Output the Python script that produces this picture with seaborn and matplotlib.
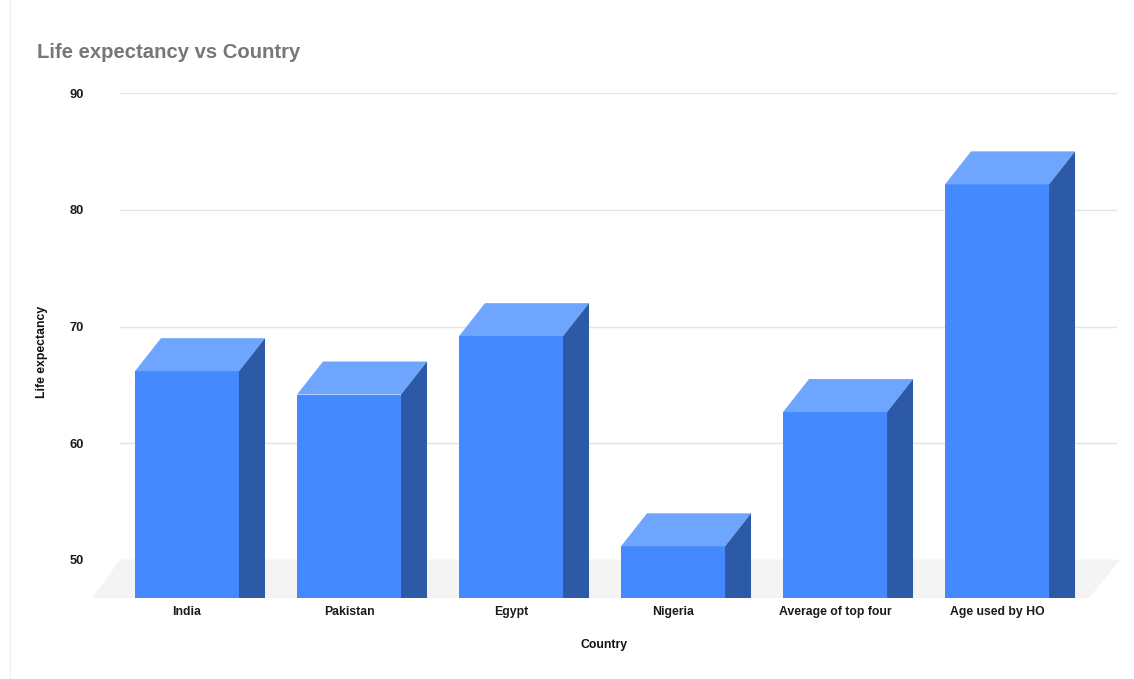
import numpy as np
import pandas as pd
import matplotlib
matplotlib.use("Agg")
import matplotlib.pyplot as plt
import seaborn as sns
from matplotlib.patches import Polygon
from matplotlib.transforms import IdentityTransform
from matplotlib.lines import Line2D

countries = ["India", "Pakistan", "Egypt", "Nigeria", "Average of top four", "Age used by HO"]
life_expectancy = [69, 67, 72, 54, 65.5, 85]
y_ticks = [50, 60, 70, 80, 90]

title = "Life expectancy vs Country"
x_label = "Country"
y_label = "Life expectancy"

FRONT = "#4589ff"
TOP = "#6ea5ff"
SIDE = "#2d5aa6"

sns.set_theme(style="white")
plt.rcParams["font.family"] = ["Liberation Sans", "DejaVu Sans"]

W, H, DPI = 1134, 679, 100
fig = plt.figure(figsize=(W / DPI, H / DPI), dpi=DPI)
fig.patch.set_facecolor("white")

def fr(x0, x1, ytop, ybot):
    return [x0 / W, 1 - ybot / H, (x1 - x0) / W, (ybot - ytop) / H]

# back wall axes (gridlines and value ticks)
ax_back = fig.add_axes(fr(120, 1117, 93, 560))
ax_back.set_zorder(0)
ax_back.set_ylim(50, 90)
ax_back.set_xlim(0, 1)
ax_back.set_yticks(y_ticks)
ax_back.set_yticklabels([str(t) for t in y_ticks], fontsize=9.3, fontweight="bold", color="#1a1a1a")
ax_back.set_xticks([])
ax_back.yaxis.grid(True, color="#e4e4e4", linewidth=1)
ax_back.tick_params(axis="y", length=0, pad=26)
for s in ax_back.spines.values():
    s.set_visible(False)
ax_back.set_facecolor("white")

# floor in pixel coordinates
def px(x, y):
    return (x, H - y)
floor = Polygon([px(92, 598), px(1089, 598), px(1120, 560), px(120, 560)],
                closed=True, facecolor="#f4f4f4", edgecolor="none",
                transform=IdentityTransform(), zorder=0.5)
fig.add_artist(floor)

# front plane axes (bars)
ax = fig.add_axes(fr(94, 1091, 126, 598))
ax.set_zorder(1)
ax.patch.set_alpha(0)
df = pd.DataFrame({"country": countries, "value": life_expectancy})
sns.barplot(data=df, x="country", y="value", ax=ax, color=FRONT, width=0.642,
            saturation=1, edgecolor="none", linewidth=0, zorder=2)
ax.set_xlim(-0.574, 5.58)
ylo = 50 - 5 / 11.675
ax.set_ylim(ylo, 90)
ax.set_yticks([])
ax.set_xlabel("")
ax.set_ylabel("")
ax.tick_params(axis="x", length=0, pad=6)
for lab in ax.get_xticklabels():
    lab.set_fontsize(8.8)
    lab.set_fontweight("bold")
    lab.set_color("#1a1a1a")
for s in ax.spines.values():
    s.set_visible(False)

# 3D faces from the bar patches
dx = 26 / 162.0
dy = 33 / 11.675
for p in list(ax.patches):
    x0 = p.get_x()
    x1 = x0 + p.get_width()
    top = p.get_y() + p.get_height()
    top_face = Polygon([(x0, top), (x1, top), (x1 + dx, top + dy), (x0 + dx, top + dy)],
                       closed=True, facecolor=TOP, edgecolor="none", zorder=2, clip_on=False)
    side_face = Polygon([(x1, ylo), (x1, top), (x1 + dx, top + dy), (x1 + dx, ylo)],
                        closed=True, facecolor=SIDE, edgecolor="none", zorder=2, clip_on=False)
    ax.add_patch(top_face)
    ax.add_patch(side_face)

fig.text(37 / W, 1 - 52 / H, title, fontsize=14.6, fontweight="bold", color="#777777",
         ha="left", va="center")
fig.text(604 / W, 1 - 645 / H, x_label, fontsize=8.8, fontweight="bold", color="#111111",
         ha="center", va="center")
fig.text(42 / W, 1 - 352 / H, y_label, fontsize=8.8, fontweight="bold", color="#111111",
         ha="center", va="center", rotation=90)

fig.add_artist(Line2D([10 / W, 10 / W], [0, 1], color="#f0f0f0", linewidth=1,
                      transform=fig.transFigure))

fig.savefig("out.png", dpi=DPI)
